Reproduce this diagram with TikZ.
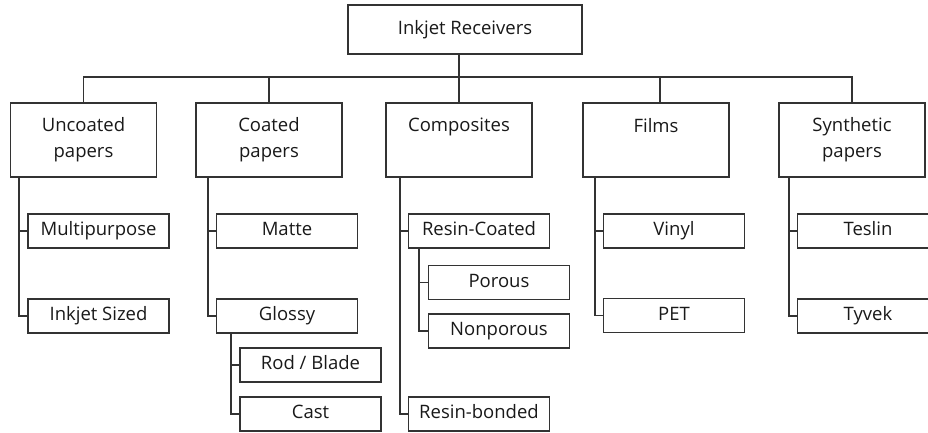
\documentclass[tikz,border=0pt]{standalone}
\usepackage{fontspec}
\setmainfont{Open Sans}
\newcommand\emptyline{\rule[-4pt]{0pt}{4pt}}
\begin{document}
\begin{tikzpicture}[x=1pt,y=-1pt,
  every node/.style={font=\fontsize{18.5}{26}\selectfont, text=black!90},
  rootbox/.style={draw=black!80, line width=1.3pt, inner sep=0pt, minimum width=234pt, minimum height=49pt, text height=13pt, text depth=4pt},
  catbox/.style={draw=black!80, line width=1.3pt, inner sep=0pt, minimum width=146pt, minimum height=74pt, align=center},
  leafbox/.style={draw=black!80, line width=1.3pt, inner sep=0pt, minimum width=141pt, minimum height=34pt, text height=13pt, text depth=4pt},
  conn/.style={draw=black!80, line width=1.3pt}]
\useasboundingbox (0,0) rectangle (928,432);
% root and categories
\node[rootbox] (root) at (465,29.5) {Inkjet Receivers};
\node[catbox] (unc) at (83.5,140) {Uncoated\\papers};
\node[catbox] (coa) at (269,140) {Coated\\papers};
\node[catbox] (com) at (459,140) {Composites\\\emptyline};
\node[catbox] (fil) at (656,140) {Films\\\emptyline};
\node[catbox] (syn) at (852,140) {Synthetic\\papers};
% leaves
\node[leafbox] (multi) at (98.5,231) {Multipurpose};
\node[leafbox] (sized) at (98.5,316) {Inkjet Sized};
\node[leafbox] (matte) at (287,231) {Matte};
\node[leafbox] (glossy) at (287,316) {Glossy};
\node[leafbox] (rod) at (310.5,365) {Rod / Blade};
\node[leafbox] (cast) at (310.5,414) {Cast};
\node[leafbox] (rc) at (479,231) {Resin-Coated};
\node[leafbox] (por) at (499,282.5) {Porous};
\node[leafbox] (nonp) at (499,331) {Nonporous};
\node[leafbox] (rb) at (479,414) {Resin-bonded};
\node[leafbox] (vinyl) at (674,231) {Vinyl};
\node[leafbox] (pet) at (674,315.5) {PET};
\node[leafbox] (teslin) at (868,231) {Teslin};
\node[leafbox] (tyvek) at (868,316) {Tyvek};
% top-level connectors
\draw[conn] (unc.north) -- (unc.north |- 0,77) -- (syn.north |- 0,77) -- (syn.north);
\draw[conn] (coa.north |- 0,77) -- (coa.north);
\draw[conn] (660,77) -- (fil.north -| 660,0);
\draw[conn] (root.south -| com.north) -- (com.north);
% uncoated
\draw[conn] (unc.south -| 19,0) |- (sized.west);
\draw[conn] (multi.west -| 19,0) -- (multi.west);
% coated
\draw[conn] (coa.south -| 208,0) |- (glossy.west);
\draw[conn] (matte.west -| 208,0) -- (matte.west);
\draw[conn] (glossy.south -| 231,0) |- (cast.west);
\draw[conn] (rod.west -| 231,0) -- (rod.west);
% composites
\draw[conn] (com.south -| 400,0) |- (rb.west);
\draw[conn] (rc.west -| 400,0) -- (rc.west);
\draw[conn] (rc.south -| 419,0) |- (nonp.west);
\draw[conn] (por.west -| 419,0) -- (por.west);
% films
\draw[conn] (fil.south -| 595,0) |- (pet.west);
\draw[conn] (vinyl.west -| 595,0) -- (vinyl.west);
% synthetic
\draw[conn] (syn.south -| 789,0) |- (tyvek.west);
\draw[conn] (teslin.west -| 789,0) -- (teslin.west);
\end{tikzpicture}
\end{document}
